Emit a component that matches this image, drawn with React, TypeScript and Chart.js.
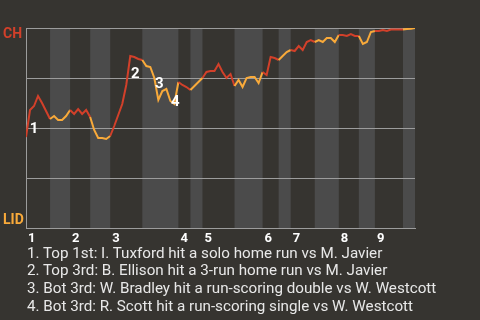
import React, { useEffect, useRef } from 'react';
import { Chart, registerables } from 'chart.js';

Chart.register(...registerables);

// Chance (0-100) that CH wins, after each plate appearance
const chWinProb = [
  45.5, 59, 61, 66, 62.5, 58.5, 54.5,
  56, 54, 54, 56, 59,
  57, 59.5, 57, 59, 55.5,
  49, 45, 45, 44.5, 46,
  51, 56.5, 62, 71.5, 86, 85.5, 84.5, 84,
  81, 80.5, 75, 64, 68.5, 69.5, 63.5, 62, 73,
  71.5, 70.5, 69,
  71, 73, 75,
  78, 78.5, 78.5, 82, 78, 75, 77, 71,
  74, 70.5, 75, 75.5, 75.5, 72.5, 78,
  76.5, 85.5, 85, 84,
  86, 88, 89,
  88.5, 91, 89, 93, 94, 93,
  94, 93, 95, 95, 93, 96.5,
  96.5, 96, 97, 96, 96,
  92, 93, 98, 98.5,
  98.5, 99, 98.5, 99.2, 99.2, 99.3, 99.3,
  99.5, 99.6, 100,
];

// Index of the first plate appearance of each half inning (top, bottom, top, ...)
const halfInningStarts = [0, 6, 11, 16, 21, 29, 38, 41, 44, 52, 59, 63, 66, 72, 78, 83, 87, 94];
const lastIndex = 97;
const inningLabels = ['1', '2', '3', '4', '5', '6', '7', '8', '9'];

const teamTop = 'CH';
const teamBottom = 'LID';

const eventNumbers = ['1', '2', '3', '4'];
const eventIndices = [0, 26, 33, 37];
const eventTexts = [
  '1. Top 1st: I. Tuxford hit a solo home run vs M. Javier',
  '2. Top 3rd: B. Ellison hit a 3-run home run vs M. Javier',
  '3. Bot 3rd: W. Bradley hit a run-scoring double vs W. Westcott',
  '4. Bot 3rd: R. Scott hit a run-scoring single vs W. Westcott',
];

// styles
const BG = '#363430';
const BAND = '#4b4b4b';
const GRID = '#9c9c9c';
const RED = '#d2402a';
const ORANGE = '#f9aa3a';
const FONT = 'Roboto, "Noto Sans", sans-serif';
const labelOffsets = [
  [8, -8],
  [5, 18],
  [1, -16],
  [1, -2],
];

function halfOf(i: number) {
  let h = 0;
  for (let k = 0; k < halfInningStarts.length; k++) {
    if (i >= halfInningStarts[k]) h = k;
  }
  return h;
}

const bandsPlugin = {
  id: 'bands',
  beforeDraw(chart: any) {
    const { ctx, chartArea, scales } = chart;
    ctx.save();
    ctx.fillStyle = BG;
    ctx.fillRect(0, 0, chart.width, chart.height);
    ctx.fillStyle = BAND;
    for (let k = 1; k < halfInningStarts.length; k += 2) {
      const x0 = scales.x.getPixelForValue(halfInningStarts[k]);
      const endIdx = k + 1 < halfInningStarts.length ? halfInningStarts[k + 1] : lastIndex;
      const x1 = scales.x.getPixelForValue(endIdx);
      ctx.fillRect(x0, chartArea.top, x1 - x0, chartArea.bottom - chartArea.top);
    }
    ctx.restore();
  },
};

const labelsPlugin = {
  id: 'labels',
  afterDatasetsDraw(chart: any) {
    const { ctx, chartArea, scales } = chart;
    ctx.save();
    ctx.textBaseline = 'middle';
    ctx.textAlign = 'left';
    ctx.font = `bold 14px ${FONT}`;
    ctx.fillStyle = RED;
    ctx.fillText(teamTop, 3, chartArea.top + 6);
    ctx.fillStyle = ORANGE;
    ctx.fillText(teamBottom, 3, chartArea.bottom - 8);

    ctx.fillStyle = '#ffffff';
    ctx.font = `bold 13px ${FONT}`;
    inningLabels.forEach((lab, n) => {
      const x = scales.x.getPixelForValue(halfInningStarts[n * 2]);
      ctx.fillText(lab, x + 2, chartArea.bottom + 11);
    });

    ctx.textAlign = 'center';
    ctx.font = `bold 15px ${FONT}`;
    eventNumbers.forEach((lab, n) => {
      const i = eventIndices[n];
      const x = scales.x.getPixelForValue(i);
      const y = scales.y.getPixelForValue(chWinProb[i]);
      ctx.fillText(lab, x + labelOffsets[n][0], y + labelOffsets[n][1]);
    });
    ctx.restore();
  },
};

export default function App() {
  const ref = useRef<HTMLCanvasElement>(null);
  useEffect(() => {
    const chart = new Chart(ref.current!, {
      type: 'line',
      data: {
        datasets: [
          {
            data: chWinProb.map((v, i) => ({ x: i, y: v })),
            borderWidth: 2,
            borderColor: RED,
            pointRadius: 0,
            tension: 0,
            segment: {
              borderColor: (c: any) => (halfOf(c.p0DataIndex) % 2 === 0 ? RED : ORANGE),
            },
          },
        ],
      },
      options: {
        animation: false,
        responsive: false,
        events: [],
        layout: { padding: { left: 26, top: 28, right: 65, bottom: 92 } },
        plugins: { legend: { display: false }, tooltip: { enabled: false } },
        scales: {
          x: {
            type: 'linear',
            min: 0,
            max: lastIndex,
            ticks: { display: false },
            grid: { display: false, drawTicks: false },
            border: { display: true, color: GRID, width: 1 },
            afterFit: (s: any) => {
              s.height = 0;
            },
          },
          y: {
            min: 0,
            max: 100,
            ticks: { display: false, stepSize: 25 },
            grid: { color: GRID, drawTicks: false, lineWidth: 1 },
            border: { display: true, color: GRID, width: 1 },
            afterFit: (s: any) => {
              s.width = 0;
            },
          },
        },
      },
      plugins: [bandsPlugin, labelsPlugin],
    } as any);
    return () => chart.destroy();
  }, []);

  return (
    <div style={{ position: 'fixed', left: 0, top: 0, width: 480, height: 320, background: BG, overflow: 'hidden' }}>
      <canvas ref={ref} width={480} height={320} style={{ display: 'block', width: 480, height: 320 }} />
      <div
        style={{
          position: 'absolute',
          left: 27,
          top: 244.5,
          fontFamily: FONT,
          fontSize: 15.2,
          lineHeight: '17.8px',
          color: '#e8e8e8',
          whiteSpace: 'nowrap',
        }}
      >
        {eventTexts.map((t) => (
          <div key={t}>{t}</div>
        ))}
      </div>
    </div>
  );
}
